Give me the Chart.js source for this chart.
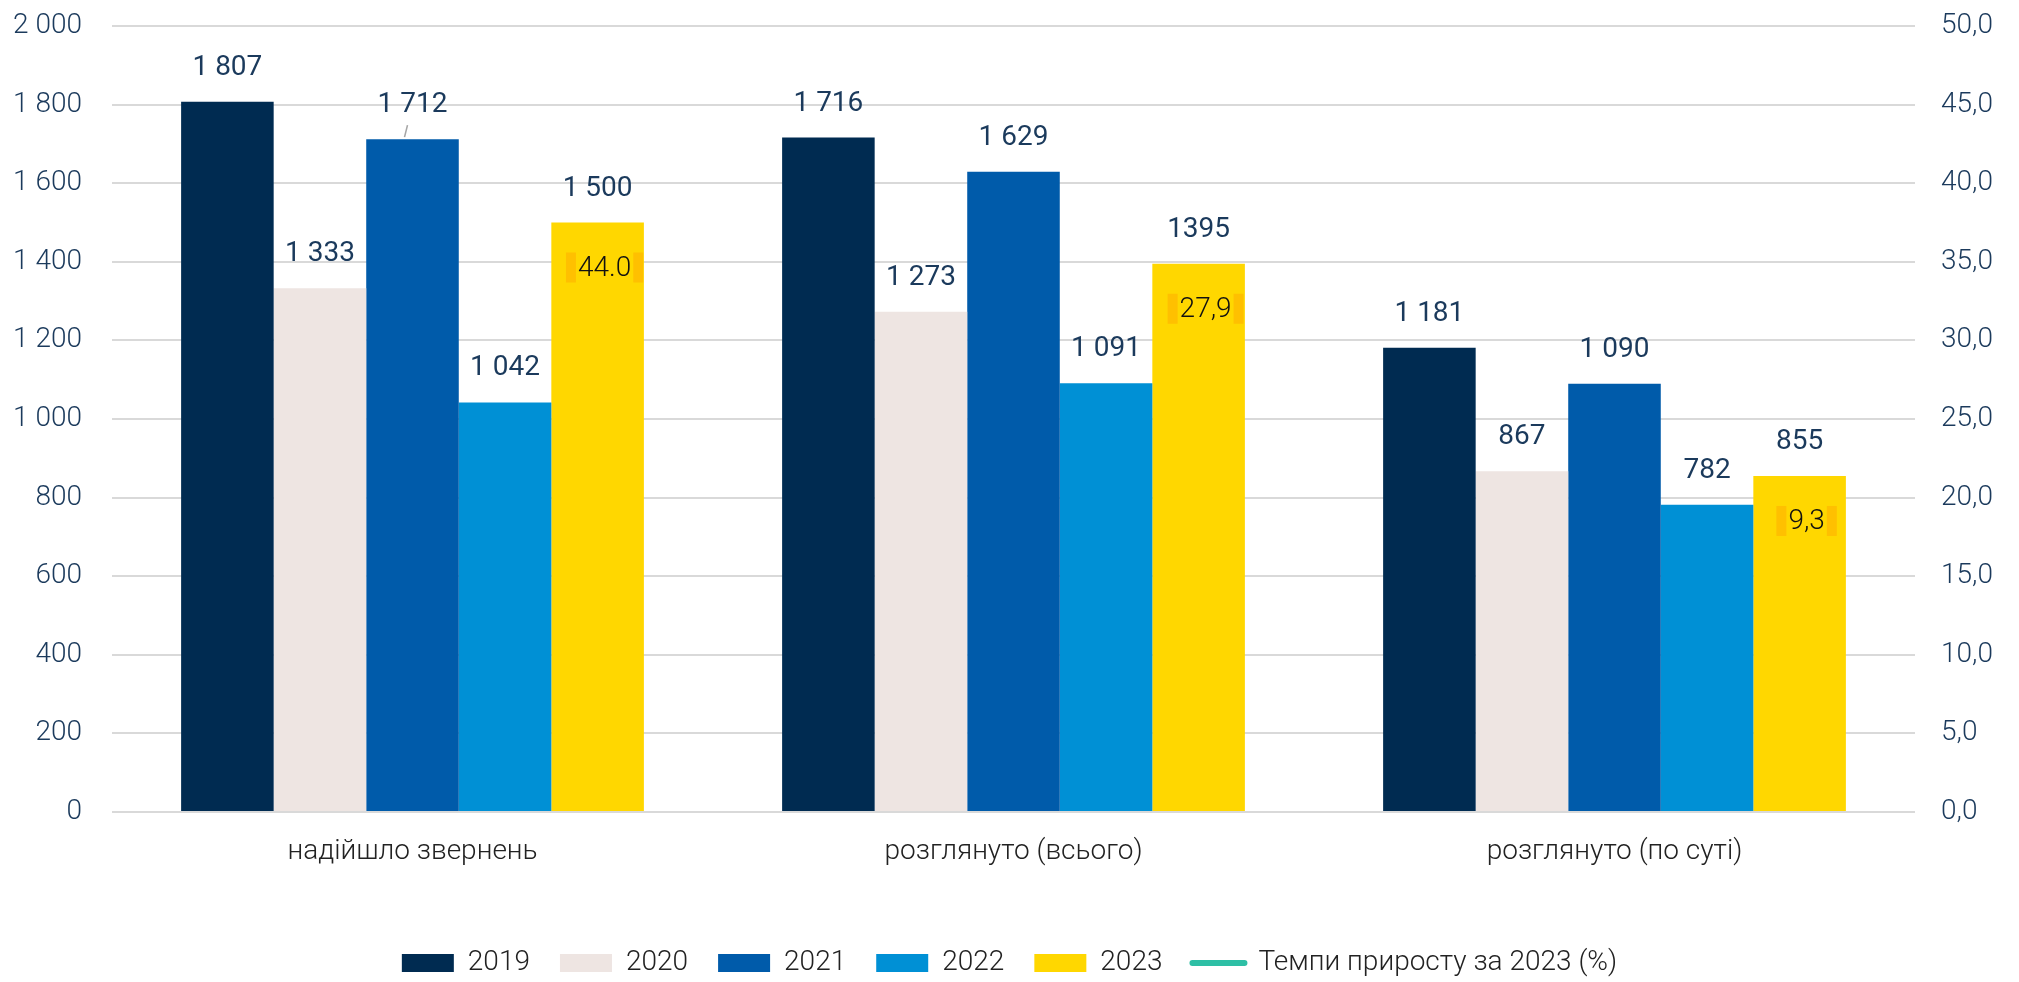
<!DOCTYPE html>
<html>
<head>
<meta charset="utf-8">
<script src="https://cdn.jsdelivr.net/npm/chart.js@4.4.0/dist/chart.umd.min.js"></script>
<style>
  html, body { margin: 0; padding: 0; background: #fff; }
  #wrap { width: 2019px; height: 982px; }
</style>
</head>
<body>
<div id="wrap"><canvas id="BarChart" width="2019" height="982"></canvas></div>
<script>
// chart values
const categories = ["надійшло звернень", "розглянуто (всього)", "розглянуто (по суті)"];
const years = ["2019", "2020", "2021", "2022", "2023"];
const values2019 = [1807, 1716, 1181];
const values2020 = [1333, 1273, 867];
const values2021 = [1712, 1629, 1090];
const values2022 = [1042, 1091, 782];
const values2023 = [1500, 1395, 855];
const labels2023 = ["1 500", "1395", "855"];
const growth2023 = [44.0, 27.9, 9.3];
const growthText = ["44.0", "27,9", "9,3"];
const growthName = "Темпи приросту за 2023 (%)";
const leftTicks = [0, 2000, 200];
const rightTicks = [0, 50, 5];

const colors = ["#002B51", "#EEE5E2", "#005BAA", "#0090D5", "#FFD700"];
const teal = "#2EBFA5";
const navyText = "#1B3A5C";
const fontFamily = "Roboto, 'Noto Sans', sans-serif";

function spaced(n) {
    return String(n).replace(/\B(?=(\d{3})+(?!\d))/g, " ");
}

const seriesValues = [values2019, values2020, values2021, values2022, values2023];
var datasets = [];
for (let i = 0; i < years.length; i++) {
    datasets.push({
        type: "bar",
        label: years[i],
        data: seriesValues[i],
        backgroundColor: colors[i],
        borderWidth: 0,
        yAxisID: "y",
        order: 2
    });
}
datasets.push({
    type: "line",
    label: growthName,
    data: growth2023,
    borderColor: "rgba(0,0,0,0)",
    backgroundColor: teal,
    pointRadius: 0,
    showLine: false,
    yAxisID: "y1",
    order: 1
});

// value labels above bars, growth labels inside 2023 bars
const labelPlugin = {
    id: "labelPlugin",
    afterDatasetsDraw(chart) {
        const ctx = chart.ctx;
        ctx.save();
        ctx.textAlign = "center";
        ctx.textBaseline = "middle";
        for (let d = 0; d < years.length; d++) {
            const meta = chart.getDatasetMeta(d);
            meta.data.forEach((bar, i) => {
                let txt = d === 4 ? labels2023[i] : spaced(seriesValues[d][i]);
                ctx.font = "400 28px " + fontFamily;
                ctx.fillStyle = navyText;
                ctx.fillText(txt, bar.x, bar.y - 34);
            });
        }
        // leader line for 1 712
        const b = chart.getDatasetMeta(2).data[0];
        ctx.strokeStyle = "#A6A6A6";
        ctx.lineWidth = 1.5;
        ctx.beginPath();
        ctx.moveTo(b.x - 8, b.y - 2);
        ctx.lineTo(b.x - 5, b.y - 14);
        ctx.stroke();

        const m23 = chart.getDatasetMeta(4);
        m23.data.forEach((bar, i) => {
            ctx.font = "300 28px " + fontFamily;
            const cx = bar.x + 7;
            const cy = bar.y + 45;
            const w = ctx.measureText(growthText[i]).width;
            ctx.fillStyle = "#FFC000";
            ctx.fillRect(cx - w / 2 - 12, cy - 15, 10, 30);
            ctx.fillRect(cx + w / 2 + 2, cy - 15, 10, 30);
            ctx.fillStyle = "#111";
            ctx.fillText(growthText[i], cx, cy + 1);
        });
        ctx.restore();
    }
};

var config = {
    data: { labels: categories, datasets: datasets },
    options: {
        responsive: false,
        animation: false,
        layout: { padding: { top: 26, bottom: -5, left: 0, right: 0 } },
        datasets: {
            bar: { categoryPercentage: 0.77, barPercentage: 1.0 }
        },
        plugins: {
            title: { display: false },
            tooltip: { enabled: false },
            legend: {
                position: "bottom",
                labels: {
                    usePointStyle: true,
                    pointStyleWidth: 52,
                    boxHeight: 18,
                    padding: 30,
                    color: "#222",
                    font: { family: fontFamily, size: 28, weight: "300" },
                    generateLabels(chart) {
                        return chart.data.datasets.map((ds, i) => ({
                            text: ds.label,
                            fillStyle: i < 5 ? colors[i] : teal,
                            strokeStyle: i < 5 ? colors[i] : teal,
                            lineWidth: i < 5 ? 0 : 6,
                            lineCap: "round",
                            pointStyle: i < 5 ? "rect" : "line",
                            fontColor: "#222",
                            hidden: false,
                            datasetIndex: i
                        }));
                    }
                }
            }
        },
        scales: {
            x: {
                grid: { display: false },
                border: { display: false },
                ticks: {
                    color: "#222",
                    padding: 15,
                    font: { family: fontFamily, size: 28, weight: "300" }
                },
                afterFit(scale) { scale.height = 107; }
            },
            y: {
                position: "left",
                min: leftTicks[0],
                max: leftTicks[1],
                ticks: {
                    stepSize: leftTicks[2],
                    color: navyText,
                    padding: 30,
                    font: { family: fontFamily, size: 28, weight: "300" },
                    callback: v => spaced(v)
                },
                grid: { color: "#D9D9D9", lineWidth: 2, drawTicks: false },
                border: { display: false },
                afterFit(scale) {
                    scale.width = 112;
                    scale.paddingTop = 0;
                    scale.paddingBottom = 0;
                }
            },
            y1: {
                position: "right",
                min: rightTicks[0],
                max: rightTicks[1],
                ticks: {
                    stepSize: rightTicks[2],
                    color: navyText,
                    padding: 26,
                    font: { family: fontFamily, size: 28, weight: "300" },
                    callback: v => v.toFixed(1).replace(".", ",")
                },
                grid: { display: false, drawTicks: false },
                border: { display: false },
                afterFit(scale) {
                    scale.width = 104;
                    scale.paddingTop = 0;
                    scale.paddingBottom = 0;
                }
            }
        }
    },
    plugins: [labelPlugin]
};

var canvasElement = document.getElementById("BarChart");
window.myBar = new Chart(canvasElement, config);
</script>
</body>
</html>
